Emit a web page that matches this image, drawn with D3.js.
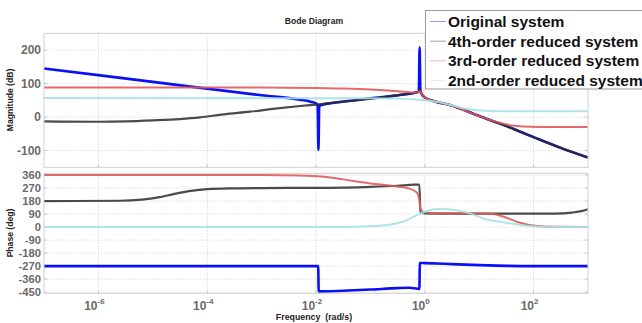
<!DOCTYPE html>
<html>
<head>
<meta charset="utf-8">
<script src="https://cdn.jsdelivr.net/npm/d3@7"></script>
<style>
html,body{margin:0;padding:0;background:#fff;}
svg{display:block;font-family:"Liberation Sans",Arial,sans-serif;}
</style>
</head>
<body>
<svg id="chart" width="642" height="323"></svg>
<script>
// ---------- DATA (frequency given as log10 of rad/s) ----------
const seriesNames = ["Original system","4th-order reduced system","3rd-order reduced system","2nd-order reduced system"];
const seriesColors = ["#0a10f5","#2b2b2b","#e05a5a","#a6e2e2"];

const xTickExps = [-6,-4,-2,0,2];
const magTicks = [200,100,0,-100];
const phaseTicks = [360,270,180,90,0,-90,-180,-270,-360,-450];

// Magnitude (dB)
const magOrigLogW = [-7,-5,-3,-2.3,-2.1,-2.0,-1.97,-1.955,-1.94,-1.9,-1.7,-1.37,-1,-0.46,-0.2,-0.11,-0.095,-0.08,0,0.2,0.46,1,1.5,2,2.5,3];
const magOrig     = [145,105,65,52,46,41,34,-98,33,36,42,48.5,56,66,72,76,208,76,58,46,36,3,-27,-60,-92,-121];

const mag4LogW = [-7,-6,-5.5,-5,-4.5,-4.13,-3.7,-3.21,-2.75,-2.29,-1.95,-1.37,-0.82,-0.46,-0.2,-0.11,-0.095,-0.08,0,0.2,0.46,1,1.5,2,2.5,3];
const mag4     = [-13,-14,-13,-10,-6,-1,8,16,25,33,38,48,58,66,72,76,82,76,58,46,36,3,-27,-60,-92,-121];

const mag3LogW = [-7,-3,-2,-1.5,-1,-0.5,-0.2,-0.11,-0.095,-0.08,0,0.2,0.46,1,1.4,1.6,1.8,2.1,3];
const mag3     = [88,88,87,85,82,77,73,75,78,74,58,46,36,3,-18,-25,-28,-29.5,-30];

const mag2LogW = [-7,-1,-0.5,-0.2,0,0.3,0.5,0.7,0.9,1.2,1.6,3];
const mag2     = [57,56,55,53,50,43,35,26,21,18,17,17];

// Phase (deg)
const phOrigLogW = [-7,-1.96,-1.95,-1.5,-1,-0.5,-0.3,-0.12,-0.1,-0.09,0,0.5,1,1.5,2,3];
const phOrig     = [-270,-270,-445,-440,-432,-422,-420,-427,-428,-248,-249,-256,-263,-268,-270,-270];

const ph4LogW = [-7,-5.6,-5.2,-4.9,-4.6,-4.3,-4.0,-3.5,-3,-2,-1,-0.5,-0.2,-0.1,-0.08,0,0.5,2.4,2.7,2.9,3];
const ph4     = [180,182,190,205,230,250,262,268,270,271,278,286,293,294,102,95,93,93,100,112,123];

const ph3LogW = [-7,-3,-2.3,-1.9,-1.5,-1.0,-0.6,-0.3,-0.15,-0.1,-0.08,-0.03,0.1,0.6,1.0,1.25,1.5,1.75,2.06,2.4,3];
const ph3     = [360,360,357,350,330,302,285,268,240,190,125,105,97,95,94,90,65,30,8,2,0];

const ph2LogW = [-7,-1.5,-1,-0.6,-0.4,-0.1,0.1,0.33,0.6,0.83,1.14,1.44,1.75,2.2,3];
const ph2     = [0,1,5,20,37,90,118,127,115,95,52,33,15,2,0];

// ---------- LAYOUT ----------
const svg = d3.select("#chart");
const L = 44, R = 588;
const magTop = 33.3, magBot = 167.3;
const phTop = 173.3, phBot = 293.3;

const x = d3.scaleLog().domain([1e-7,1e3]).range([L,R]);
const yMag = d3.scaleLinear().domain([-150,250]).range([magBot,magTop]);
const yPh = d3.scaleLinear().domain([-458,372]).range([phBot,phTop]);

function drawPanel(y, top, bot, ticks, fs){
  const g = svg.append("g");
  g.append("rect").attr("x",L).attr("y",top).attr("width",R-L).attr("height",bot-top)
    .attr("fill","#fff").attr("stroke","none");
  g.selectAll(".hg").data(ticks).enter().append("line")
    .attr("x1",L).attr("x2",R).attr("y1",d=>y(d)).attr("y2",d=>y(d))
    .attr("stroke","#d8d8d8").attr("stroke-width",0.8).attr("stroke-dasharray","1.5,1.5");
  g.selectAll(".vg").data(xTickExps).enter().append("line")
    .attr("y1",top).attr("y2",bot).attr("x1",d=>x(Math.pow(10,d))).attr("x2",d=>x(Math.pow(10,d)))
    .attr("stroke","#d0d0d0").attr("stroke-width",0.8).attr("stroke-dasharray","1.5,1.5");
  g.selectAll(".yl").data(ticks).enter().append("text")
    .attr("x",L-3).attr("y",d=>y(d)).attr("dy","0.36em").attr("text-anchor","end")
    .attr("font-size",fs).attr("font-weight","bold").attr("fill","#6a6a6a")
    .text(d=>d);
  g.selectAll(".yt").data(ticks).enter().append("line")
    .attr("x1",L).attr("x2",L+3).attr("y1",d=>y(d)).attr("y2",d=>y(d))
    .attr("stroke","#bbb").attr("stroke-width",0.8);
  g.selectAll(".yt2").data(ticks).enter().append("line")
    .attr("x1",R).attr("x2",R-3).attr("y1",d=>y(d)).attr("y2",d=>y(d))
    .attr("stroke","#bbb").attr("stroke-width",0.8);
  return g;
}
drawPanel(yMag, magTop, magBot, magTicks, 12);
drawPanel(yPh, phTop, phBot, phaseTicks, 11.2);

function curve(lw, vals, y, color, width, op){
  const pts = lw.map((l,i)=>[Math.pow(10,l), vals[i]]);
  svg.append("path").datum(pts)
    .attr("d", d3.line().x(d=>x(d[0])).y(d=>y(d[1])).curve(d3.curveMonotoneX))
    .attr("fill","none").attr("stroke",color).attr("stroke-width",width)
    .attr("stroke-linejoin","round").attr("opacity",op);
}

curve(magOrigLogW, magOrig, yMag, seriesColors[0], 2.6, 1);
curve(mag4LogW, mag4, yMag, seriesColors[1], 2.2, 0.85);
curve(mag3LogW, mag3, yMag, seriesColors[2], 2.0, 0.9);
curve(mag2LogW, mag2, yMag, seriesColors[3], 2.0, 0.9);

curve(phOrigLogW, phOrig, yPh, seriesColors[0], 2.6, 1);
curve(ph4LogW, ph4, yPh, seriesColors[1], 2.2, 0.85);
curve(ph3LogW, ph3, yPh, seriesColors[2], 2.0, 0.9);
curve(ph2LogW, ph2, yPh, seriesColors[3], 2.0, 0.9);

[[magTop,magBot],[phTop,phBot]].forEach(([t,b])=>{
  svg.append("rect").attr("x",L).attr("y",t).attr("width",R-L).attr("height",b-t)
    .attr("fill","none").attr("stroke","#cfcfcf").attr("stroke-width",1);
});

const xt = svg.append("g");
xTickExps.forEach(e=>{
  const px = x(Math.pow(10,e));
  [magBot,phBot].forEach(yy=>{
    xt.append("line").attr("x1",px).attr("x2",px).attr("y1",yy).attr("y2",yy-3).attr("stroke","#bbb").attr("stroke-width",0.8);
  });
  const t = xt.append("text").attr("x",px-4).attr("y",310).attr("text-anchor","middle")
    .attr("font-size",12).attr("font-weight","bold").attr("fill","#6a6a6a");
  t.append("tspan").text("10");
  t.append("tspan").attr("dy",-6).attr("font-size",8).text(String(e));
});

svg.append("text").attr("x",314).attr("y",24).attr("text-anchor","middle")
  .attr("font-size",8.6).attr("font-weight","bold").attr("fill","#222").text("Bode Diagram");
svg.append("text").attr("x",314).attr("y",320).attr("text-anchor","middle")
  .attr("font-size",8.8).attr("font-weight","bold").attr("fill","#222").attr("xml:space","preserve").text("Frequency  (rad/s)");
svg.append("text").attr("transform","translate(13,100) rotate(-90)").attr("text-anchor","middle")
  .attr("font-size",8.6).attr("font-weight","bold").attr("fill","#222").text("Magnitude (dB)");
svg.append("text").attr("transform","translate(13,233) rotate(-90)").attr("text-anchor","middle")
  .attr("font-size",8.6).attr("font-weight","bold").attr("fill","#222").text("Phase (deg)");

const lg = svg.append("g");
lg.append("rect").attr("x",425.5).attr("y",10.5).attr("width",240).attr("height",78.5)
  .attr("fill","#fff").attr("stroke","#9a9a9a").attr("stroke-width",1);
seriesNames.forEach((n,i)=>{
  const cy = 21.5 + i*19.7;
  lg.append("line").attr("x1",430).attr("x2",446).attr("y1",cy).attr("y2",cy)
    .attr("stroke",seriesColors[i]).attr("stroke-width",0.8).attr("opacity",0.55);
  lg.append("text").attr("x",448).attr("y",cy).attr("dy","0.36em")
    .attr("font-size",15.5).attr("font-weight","bold").attr("fill","#111").text(n);
});
</script>
</body>
</html>
